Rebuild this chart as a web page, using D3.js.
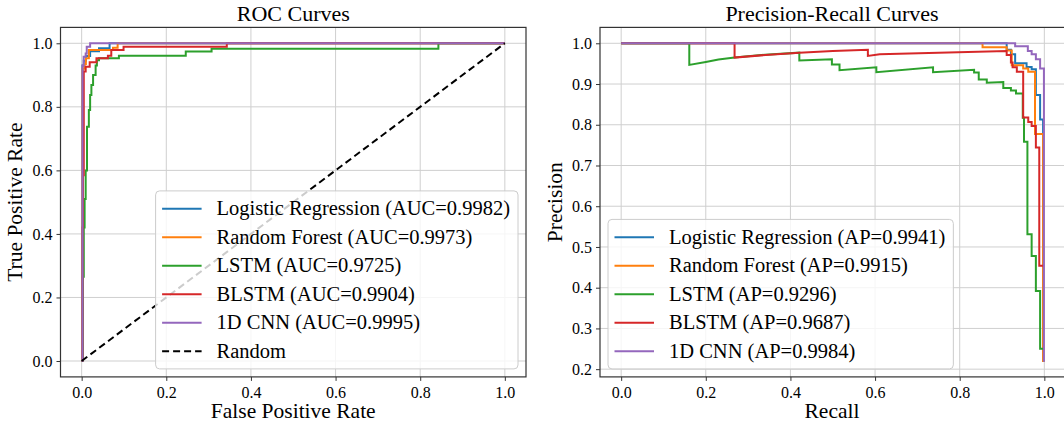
<!DOCTYPE html>
<html>
<head>
<meta charset="utf-8">
<script src="https://cdn.jsdelivr.net/npm/d3@7"></script>
<style>
  body { margin: 0; background: #fff; }
  text { font-family: "Liberation Serif", "Times New Roman", serif; fill: #000; }
</style>
</head>
<body>
<svg id="chart" width="1064" height="425"></svg>
<script>
// model names, colours and scores
const models = ["Logistic Regression", "Random Forest", "LSTM", "BLSTM", "1D CNN"];
const colors = ["#1f77b4", "#ff7f0e", "#2ca02c", "#d62728", "#9467bd"];
const aucValues = ["0.9982", "0.9973", "0.9725", "0.9904", "0.9995"];
const apValues = ["0.9941", "0.9915", "0.9296", "0.9687", "0.9984"];

// tick values
const rocTicks = [0, 0.2, 0.4, 0.6, 0.8, 1.0];
const recallTicks = [0, 0.2, 0.4, 0.6, 0.8, 1.0];
const precisionTicks = [0.2, 0.3, 0.4, 0.5, 0.6, 0.7, 0.8, 0.9, 1.0];

// ROC points [fpr, tpr]
const rocLR = [[0,0],[0.002,0],[0.002,0.93],[0.005,0.93],[0.005,0.945],[0.01,0.945],[0.01,0.96],[0.02,0.96],[0.02,0.975],[0.041,0.975],[0.041,0.984],[0.066,0.984],[0.066,1],[1,1]];
const rocRF = [[0,0],[0.002,0],[0.002,0.92],[0.007,0.92],[0.007,0.935],[0.01,0.935],[0.01,0.953],[0.017,0.953],[0.017,0.979],[0.074,0.979],[0.074,0.986],[0.085,0.986],[0.085,1],[1,1]];
const rocLSTM = [[0,0],[0.003,0],[0.003,0.265],[0.005,0.265],[0.005,0.42],[0.007,0.42],[0.007,0.51],[0.0095,0.51],[0.0095,0.6],[0.0126,0.6],[0.0126,0.737],[0.017,0.737],[0.017,0.79],[0.02,0.79],[0.02,0.837],[0.023,0.837],[0.023,0.869],[0.027,0.869],[0.027,0.9],[0.033,0.9],[0.033,0.93],[0.036,0.93],[0.036,0.947],[0.041,0.947],[0.041,0.953],[0.088,0.953],[0.088,0.961],[0.246,0.961],[0.246,0.974],[0.307,0.974],[0.307,0.983],[0.843,0.983],[0.843,1],[1,1]];
const rocBLSTM = [[0,0],[0.002,0],[0.002,0.42],[0.003,0.42],[0.003,0.585],[0.005,0.585],[0.005,0.911],[0.0095,0.911],[0.0095,0.926],[0.019,0.926],[0.019,0.94],[0.035,0.94],[0.035,0.953],[0.062,0.953],[0.062,0.961],[0.07,0.961],[0.07,0.979],[0.099,0.979],[0.099,0.989],[0.343,0.989],[0.343,1],[1,1]];
const rocCNN = [[0,0],[0.002,0],[0.002,0.93],[0.0047,0.93],[0.0047,0.958],[0.0095,0.958],[0.0095,0.968],[0.012,0.968],[0.012,0.989],[0.02,0.989],[0.02,1],[1,1]];
const rocRandom = [[0,0],[1,1]];

// precision-recall points [recall, precision]
const prLR = [[0,1],[0.911,1],[0.911,0.984],[0.921,0.984],[0.921,0.973],[0.931,0.973],[0.931,0.951],[0.958,0.951],[0.958,0.942],[0.97,0.942],[0.97,0.936],[0.98,0.936],[0.98,0.873],[0.99,0.873],[0.99,0.813],[0.997,0.813],[0.997,0.22],[1,0.22]];
const prRF = [[0,1],[0.854,1],[0.854,0.99],[0.911,0.99],[0.911,0.982],[0.923,0.982],[0.923,0.946],[0.95,0.946],[0.95,0.938],[0.962,0.938],[0.962,0.93],[0.978,0.93],[0.978,0.777],[0.997,0.777],[0.997,0.22],[1,0.22]];
const prLSTM = [[0,1],[0.161,1],[0.161,0.947],[0.2,0.954],[0.23,0.96],[0.268,0.965],[0.34,0.972],[0.421,0.977],[0.421,0.958],[0.498,0.961],[0.498,0.948],[0.516,0.948],[0.516,0.934],[0.603,0.941],[0.603,0.929],[0.737,0.941],[0.737,0.929],[0.834,0.935],[0.834,0.928],[0.845,0.928],[0.845,0.911],[0.864,0.911],[0.864,0.903],[0.903,0.905],[0.903,0.89],[0.921,0.89],[0.921,0.884],[0.933,0.884],[0.933,0.877],[0.949,0.877],[0.949,0.817],[0.952,0.817],[0.952,0.758],[0.96,0.758],[0.96,0.531],[0.97,0.531],[0.97,0.478],[0.98,0.478],[0.98,0.392],[0.99,0.392],[0.99,0.25],[0.998,0.25]];
const prBLSTM = [[0,1],[0.268,1],[0.268,0.965],[0.35,0.972],[0.421,0.977],[0.5,0.981],[0.583,0.984],[0.583,0.969],[0.611,0.973],[0.75,0.977],[0.911,0.981],[0.911,0.971],[0.921,0.971],[0.921,0.953],[0.925,0.953],[0.925,0.941],[0.935,0.941],[0.935,0.93],[0.95,0.93],[0.95,0.818],[0.962,0.818],[0.962,0.807],[0.97,0.807],[0.97,0.797],[0.98,0.797],[0.98,0.744],[0.988,0.744],[0.988,0.454],[0.998,0.454]];
const prCNN = [[0,1],[0.931,1],[0.931,0.993],[0.961,0.993],[0.961,0.981],[0.97,0.981],[0.97,0.973],[0.98,0.973],[0.98,0.961],[0.99,0.961],[0.99,0.938],[0.999,0.938],[0.999,0.218]];

const svg = d3.select("#chart");
const axTop = 27.4, axBottom = 376.9;

const panels = [
    {
        title: "ROC Curves", xlabel: "False Positive Rate", ylabel: "True Positive Rate",
        left: 60.5, right: 526, xDomain: [-0.05, 1.05], yDomain: [-0.05, 1.05],
        xTicks: rocTicks, yTicks: rocTicks, ylabelX: 22,
        curves: [rocLR, rocRF, rocLSTM, rocBLSTM, rocCNN],
        labels: models.map((m, i) => `${m} (AUC=${aucValues[i]})`),
        random: rocRandom, legendSide: "right"
    },
    {
        title: "Precision-Recall Curves", xlabel: "Recall", ylabel: "Precision",
        left: 600, right: 1065.5, xDomain: [-0.05, 1.05], yDomain: [0.181, 1.039],
        xTicks: recallTicks, yTicks: precisionTicks, ylabelX: 562,
        curves: [prLR, prRF, prLSTM, prBLSTM, prCNN],
        labels: models.map((m, i) => `${m} (AP=${apValues[i]})`),
        random: null, legendSide: "left"
    }
];

panels.forEach((p, k) => {
    const x = d3.scaleLinear().domain(p.xDomain).range([p.left, p.right]);
    const y = d3.scaleLinear().domain(p.yDomain).range([axBottom, axTop]);
    const g = svg.append("g");

    // clip to the axes box
    g.append("clipPath").attr("id", "clip" + k)
        .append("rect").attr("x", p.left).attr("y", axTop)
        .attr("width", p.right - p.left).attr("height", axBottom - axTop);

    // grid
    g.append("g").selectAll("line").data(p.xTicks).join("line")
        .attr("x1", d => x(d)).attr("x2", d => x(d))
        .attr("y1", axTop).attr("y2", axBottom)
        .attr("stroke", "#cfcfcf").attr("stroke-width", 1);
    g.append("g").selectAll("line").data(p.yTicks).join("line")
        .attr("x1", p.left).attr("x2", p.right)
        .attr("y1", d => y(d)).attr("y2", d => y(d))
        .attr("stroke", "#cfcfcf").attr("stroke-width", 1);

    // curves
    const line = d3.line().x(d => x(d[0])).y(d => y(d[1]));
    const plot = g.append("g").attr("clip-path", `url(#clip${k})`);
    p.curves.forEach((c, i) => {
        plot.append("path").datum(c)
            .attr("d", line)
            .attr("fill", "none")
            .attr("stroke", colors[i])
            .attr("stroke-width", 2)
            .attr("stroke-linejoin", "miter");
    });
    if (p.random) {
        plot.append("path").datum(p.random)
            .attr("d", line)
            .attr("fill", "none")
            .attr("stroke", "#000")
            .attr("stroke-width", 2)
            .attr("stroke-dasharray", "7,4");
    }

    // axes
    const xAxis = d3.axisBottom(x).tickValues(p.xTicks).tickFormat(d3.format(".1f"))
        .tickSizeInner(4).tickSizeOuter(0).tickPadding(4);
    const yAxis = d3.axisLeft(y).tickValues(p.yTicks).tickFormat(d3.format(".1f"))
        .tickSizeInner(4).tickSizeOuter(0).tickPadding(4);
    const gx = g.append("g").attr("transform", `translate(0,${axBottom})`).call(xAxis);
    const gy = g.append("g").attr("transform", `translate(${p.left},0)`).call(yAxis);
    [gx, gy].forEach(a => {
        a.select(".domain").remove();
        a.selectAll(".tick line").attr("stroke", "#333").attr("stroke-width", 1);
        a.selectAll(".tick text").style("font-size", "16px")
            .style("font-family", "'Liberation Serif', serif");
    });
    gx.selectAll(".tick text").attr("y", 21).attr("dy", 0);

    // spines
    g.append("rect")
        .attr("x", p.left).attr("y", axTop)
        .attr("width", p.right - p.left).attr("height", axBottom - axTop)
        .attr("fill", "none").attr("stroke", "#333").attr("stroke-width", 1.2);

    // titles and labels
    const cx = (p.left + p.right) / 2;
    g.append("text").attr("x", k === 0 ? cx : 832).attr("y", 20.5)
        .attr("text-anchor", "middle").style("font-size", "22px").text(p.title);
    g.append("text").attr("x", k === 0 ? cx : 832).attr("y", 418)
        .attr("text-anchor", "middle").style("font-size", "21.5px").text(p.xlabel);
    g.append("text")
        .attr("transform", `translate(${p.ylabelX},${(axTop + axBottom) / 2}) rotate(-90)`)
        .attr("text-anchor", "middle").style("font-size", "21.5px").text(p.ylabel);

    // legend
    const entries = p.labels.map((t, i) => ({ text: t, color: colors[i], dash: null }));
    if (p.random) entries.push({ text: "Random", color: "#000", dash: "7,4" });
    const rowH = 28.5;
    const legH = entries.length * rowH + 7;
    const lg = g.append("g");
    const box = lg.append("rect");
    const texts = [];
    entries.forEach((e, i) => {
        const cy = 3.5 + rowH / 2 + i * rowH;
        lg.append("line")
            .attr("x1", 6.5).attr("x2", 46).attr("y1", cy).attr("y2", cy)
            .attr("stroke", e.color).attr("stroke-width", 2)
            .attr("stroke-dasharray", e.dash);
        texts.push(lg.append("text").attr("x", 61).attr("y", cy + 6.5)
            .style("font-size", "20.5px").text(e.text));
    });
    const maxW = d3.max(texts, t => t.node().getComputedTextLength());
    const legW = 61 + maxW + 8;
    box.attr("width", legW).attr("height", legH).attr("rx", 4)
        .attr("fill", "#fff").attr("fill-opacity", 0.8)
        .attr("stroke", "#cccccc").attr("stroke-width", 1);
    const lx = p.legendSide === "right" ? p.right - 8 - legW : p.left + 8;
    lg.attr("transform", `translate(${lx},${axBottom - 8 - legH})`);
});
</script>
</body>
</html>
